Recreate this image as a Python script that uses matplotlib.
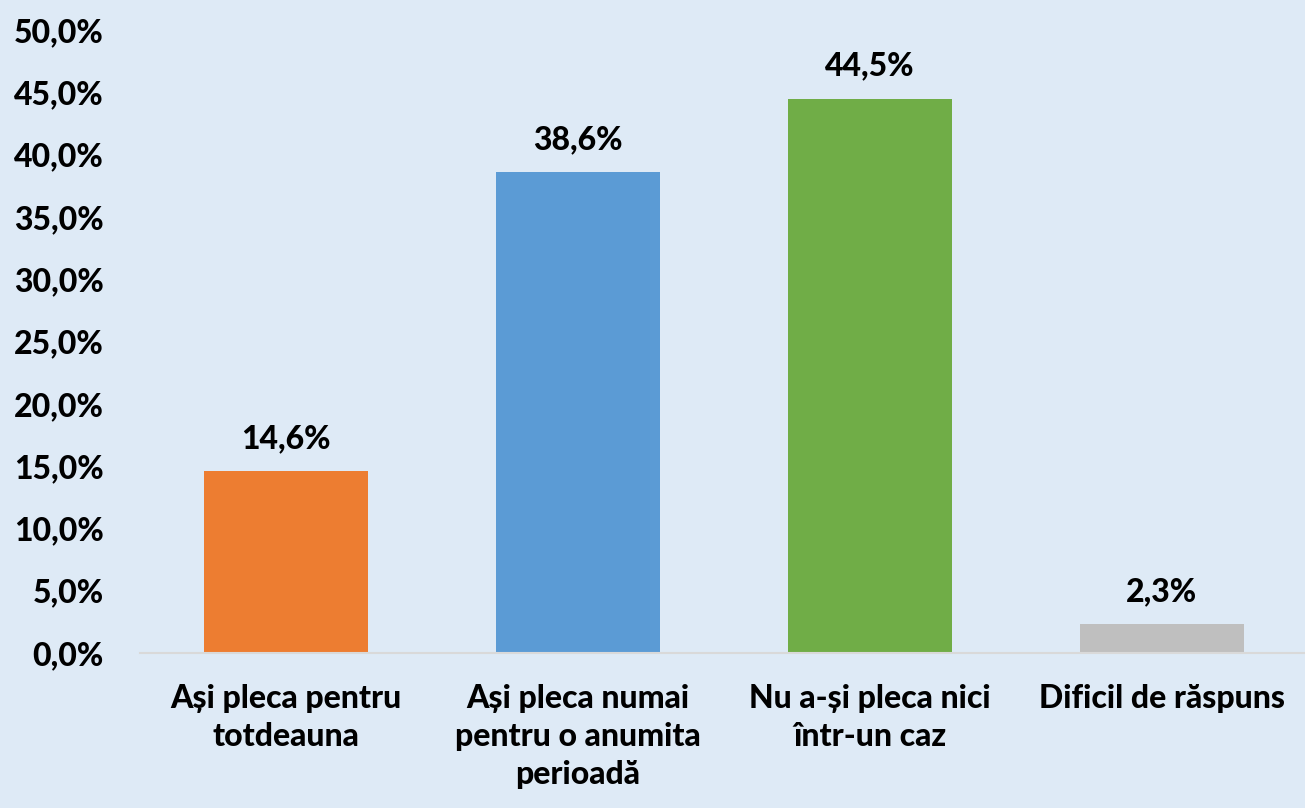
import matplotlib
matplotlib.use("Agg")
import matplotlib.pyplot as plt

categories = ["Ași pleca pentru\ntotdeauna",
              "Ași pleca numai\npentru o anumita\nperioadă",
              "Nu a-și pleca nici\nîntr-un caz",
              "Dificil de răspuns"]
values = [14.6, 38.6, 44.5, 2.3]
colors = ["#ED7D31", "#5B9BD5", "#70AD47", "#BFBFBF"]
yticks = [0, 5, 10, 15, 20, 25, 30, 35, 40, 45, 50]

plt.rcParams['font.family'] = ['Lato', 'DejaVu Sans']
FW = "black"
FS = 23
bg = "#DEEAF6"
fig = plt.figure(figsize=(13.05, 8.08), dpi=100, facecolor=bg)
ax = fig.add_axes([140/1305, (808-653)/808, 1 - 140/1305, (653-30)/808])
ax.set_facecolor(bg)

x = list(range(len(categories)))
bars = ax.bar(x, values, width=0.56, color=colors, zorder=2)
for xi, v in zip(x, values):
    ax.annotate(f"{v:.1f}%".replace(".", ","), (xi, v), xytext=(0, 13),
                textcoords="offset points", ha="center", va="bottom",
                fontsize=FS, fontweight=FW, color="black")

ax.set_xlim(-0.5, 3.49)
ax.set_ylim(0, 50)
ax.set_yticks(yticks)
ax.set_yticklabels([f"{t:.1f}%".replace(".", ",") for t in yticks],
                   fontsize=FS, fontweight=FW)
ax.set_xticks(x)
ax.set_xticklabels(categories, fontsize=FS, fontweight=FW, linespacing=1.38)
ax.tick_params(axis="y", length=0, pad=26)
ax.tick_params(axis="x", length=0, pad=22)
for s in ["top", "right", "left"]:
    ax.spines[s].set_visible(False)
ax.spines["bottom"].set_color("#D9D9D9")
ax.spines["bottom"].set_linewidth(1.5)

fig.savefig("out.png", dpi=100, facecolor=bg)
